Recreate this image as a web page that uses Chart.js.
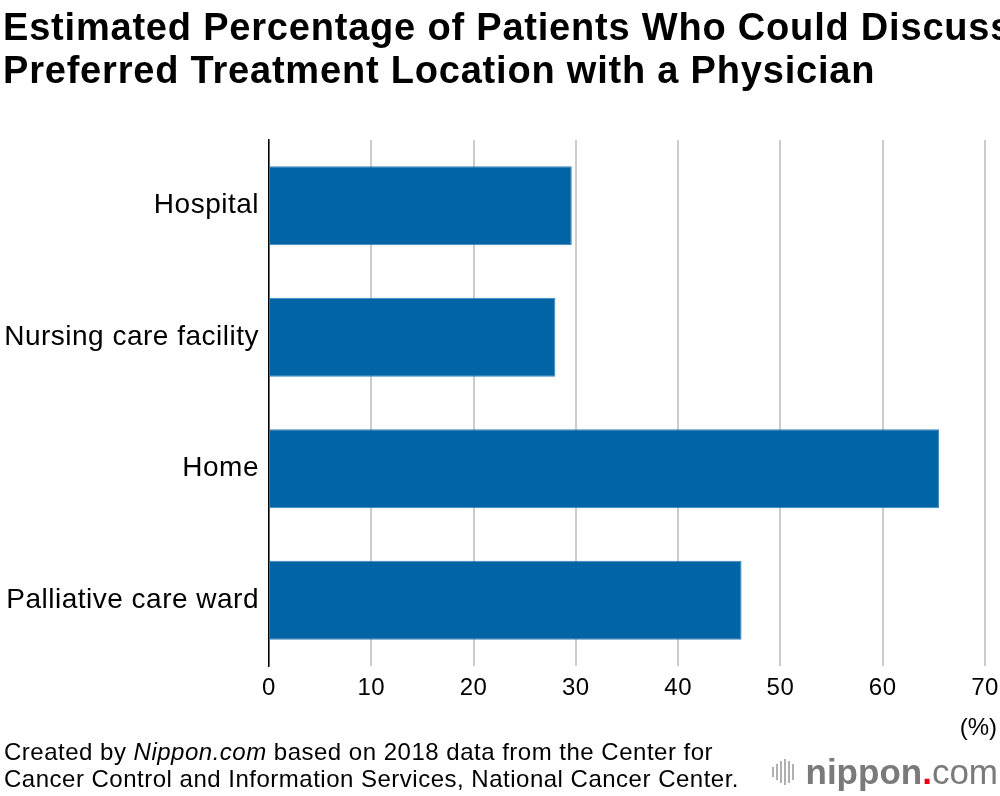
<!DOCTYPE html>
<html>
<head>
<meta charset="utf-8">
<script src="https://cdn.jsdelivr.net/npm/chart.js@4"></script>
<style>
  body { margin: 0; background: #fff; font-family: "Liberation Sans", Arial, sans-serif; }
  #wrap { position: relative; width: 1000px; height: 796px; overflow: hidden; }
  #chart { position: absolute; left: 0; top: 0; }
  .title { position: absolute; left: 3px; top: 6px; font-size: 38px; font-weight: bold; line-height: 43px; color: #000; white-space: nowrap; letter-spacing: 0.8px; }
  .unit { position: absolute; right: 3px; top: 713px; font-size: 24px; color: #000; }
  .note { position: absolute; left: 4px; top: 738px; font-size: 24px; line-height: 27px; color: #000; letter-spacing: 0.5px; white-space: nowrap; }
  .logo { position: absolute; right: 2px; top: 752px; font-size: 35px; color: #7a7a7a; display: flex; align-items: center; }
  .logo .b { font-weight: bold; }
  .logo .dot { color: #e60012; font-weight: bold; }
  .logo .icon { display: flex; align-items: center; margin-right: 10px; height: 30px; }
  .logo .icon i { display: block; width: 2px; background: #b0b0b0; margin-right: 2px; }
</style>
</head>
<body>
<div id="wrap">
  <canvas id="chart" width="1000" height="796"></canvas>
  <div class="title">Estimated Percentage of Patients Who Could Discuss<br>Preferred Treatment Location with a Physician</div>
  <div class="unit">(%)</div>
  <div class="note">Created by <i>Nippon.com</i> based on 2018 data from the Center for<br>Cancer Control and Information Services, National Cancer Center.</div>
  <div class="logo">
    <span class="icon"><i style="height:10px"></i><i style="height:16px"></i><i style="height:22px"></i><i style="height:26px"></i><i style="height:22px"></i><i style="height:16px"></i></span>
    <span class="b">nippon</span><span class="dot">.</span><span>com</span>
  </div>
</div>
<script>
const locations = ["Hospital", "Nursing care facility", "Home", "Palliative care ward"];
const shares = [29.6, 28.0, 65.5, 46.2];
const xTicks = [0, 10, 20, 30, 40, 50, 60, 70];

// slight tracking on the axis labels, like the source
const tracking = {
  id: 'tracking',
  beforeDraw: chart => { chart.ctx.letterSpacing = '0.5px'; }
};

new Chart(document.getElementById("chart"), {
  type: 'bar',
  data: {
    labels: locations,
    datasets: [{
      data: shares,
      backgroundColor: 'rgb(0, 100, 165)',
      borderColor: 'rgb(60, 130, 190)',
      borderWidth: 1,
      borderSkipped: 'left',
      barPercentage: 0.6,
      categoryPercentage: 1
    }]
  },
  plugins: [tracking],
  options: {
    indexAxis: 'y',
    responsive: false,
    animation: false,
    layout: { padding: { top: 140, right: 15, left: 0, bottom: 0 } },
    plugins: { legend: { display: false }, tooltip: { enabled: false } },
    scales: {
      x: {
        min: 0,
        max: 70,
        afterBuildTicks: axis => { axis.ticks = xTicks.map(v => ({ value: v })); },
        afterFit: axis => { axis.height = 130; axis.paddingLeft = 0; axis.paddingRight = 0; },
        grid: { color: '#cccccc', lineWidth: 2, drawTicks: false },
        border: { display: false },
        ticks: { color: '#000', padding: 8, font: { family: 'Liberation Sans', size: 24 } }
      },
      y: {
        afterFit: axis => { axis.width = 269; },
        grid: { display: false, drawTicks: false },
        border: { display: true, color: '#000', width: 1.5 },
        ticks: { color: '#000', padding: 10, font: { family: 'Liberation Sans', size: 28 } }
      }
    }
  }
});
</script>
</body>
</html>
